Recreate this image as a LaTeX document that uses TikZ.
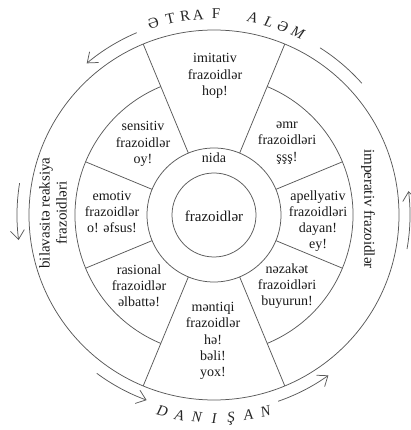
\documentclass[tikz,border=0pt]{standalone}
\usepackage{fontspec}
\setmainfont{Liberation Serif}
\usetikzlibrary{arrows.meta}
\begin{document}
\begin{tikzpicture}[x=1pt,y=1pt,
  ln/.style={draw=black!65, line width=0.75pt},
  ringarrow/.style={ln, -{Straight Barb[length=9pt,width=14pt]}},
  sect/.style={align=center, inner sep=0pt, text=black!90, font=\fontsize{14}{16.2}\selectfont},
  core/.style={inner sep=0pt, text=black!90, font=\fontsize{15}{17}\selectfont},
  side/.style={align=center, inner sep=0pt, text=black!90, font=\fontsize{15}{17}\selectfont},
  uptext/.style={inner sep=0pt, anchor=base, text=black!85, font=\fontsize{15}{15}\selectfont},
  downtext/.style={inner sep=0pt, anchor=base, text=black!85, font=\fontsize{15}{15}\selectfont\itshape}
]
\useasboundingbox (-214,-215) rectangle (197,215);

% circles
\draw[ln] (0,0) circle[radius=185];
\draw[ln] (0,0) circle[radius=67];
\draw[ln] (0,0) circle[radius=42];
\draw[ln] (-67.5:139) arc[start angle=-67.5, end angle=67.5, radius=139];
\draw[ln] (112.5:139) arc[start angle=112.5, end angle=247.5, radius=139];

% sector borders
\foreach \a in {67.5,112.5,-67.5,-112.5} \draw[ln] (\a:67) -- (\a:185);
\foreach \a in {22.5,-22.5,157.5,-157.5} \draw[ln] (\a:67) -- (\a:139);

% outer arrows
\draw[ringarrow] (113:198) arc[start angle=113, end angle=130, radius=198];
\draw[ln] (41.7:198) arc[start angle=41.7, end angle=57.6, radius=198];
\draw[ringarrow] (-10:196) arc[start angle=-10, end angle=7, radius=196];
\draw[ringarrow] (-71:197) arc[start angle=-71, end angle=-54.5, radius=197];
\draw[ringarrow] (-126.5:197) arc[start angle=-126.5, end angle=-110, radius=197];
\draw[ringarrow] (170.7:197) arc[start angle=170.7, end angle=187.3, radius=197];

% texts
\node[core] (center) at (0,-1) {frazoidlər};
\node[sect] (nida) at (0,57) {nida};
\node[sect] (imitativ) at (1,139) {imitativ\\frazoidlər\\hop!};
\node[sect] (sensitiv) at (-71,71) {sensitiv\\frazoidlər\\oy!};
\node[sect] (emr) at (73,72) {əmr\\frazoidləri\\şşş!};
\node[sect] (emotiv) at (-102,3) {emotiv\\frazoidlər\\o! əfsus!};
\node[sect] (apel) at (104,-6) {apellyativ\\frazoidləri\\dayan!\\ey!};
\node[sect] (rasional) at (-75,-71) {rasional\\frazoidlər\\əlbattə!};
\node[sect] (nezaket) at (73,-71) {nəzakət\\frazoidləri\\buyurun!};
\node[sect] (mentiqi) at (-1,-126) {məntiqi\\frazoidlər\\hə!\\bəli!\\yox!};

\node[side, rotate=90] (bil) at (-161,2) {bilavasitə reaksiya\\frazoidləri};
\node[side, rotate=-90] (imp) at (154,6) {imperativ frazoidlər};

% curved words
\foreach \ch/\a [count=\i] in {Ə/107.6, T/102.6, R/98.3, A/94.5, F/89.4}
  \node[uptext, rotate=\a-90, name=tw\i] at (\a:196) {\ch};
\foreach \ch/\a [count=\i] in {A/78.9, L/74.2, Ə/70.0, M/65.3}
  \node[uptext, font=\fontsize{15}{15}\selectfont\itshape, rotate=\a-90, name=aw\i] at (\a:196) {\ch};
\foreach \ch/\a [count=\i] in {D/-104.7, A/-99.8, N/-94.9, I/-90, Ş/-85.2, A/-80.3, N/-75.3}
  \node[downtext, rotate=\a+90, name=dw\i] at (\a:208) {\ch};
\end{tikzpicture}
\end{document}
